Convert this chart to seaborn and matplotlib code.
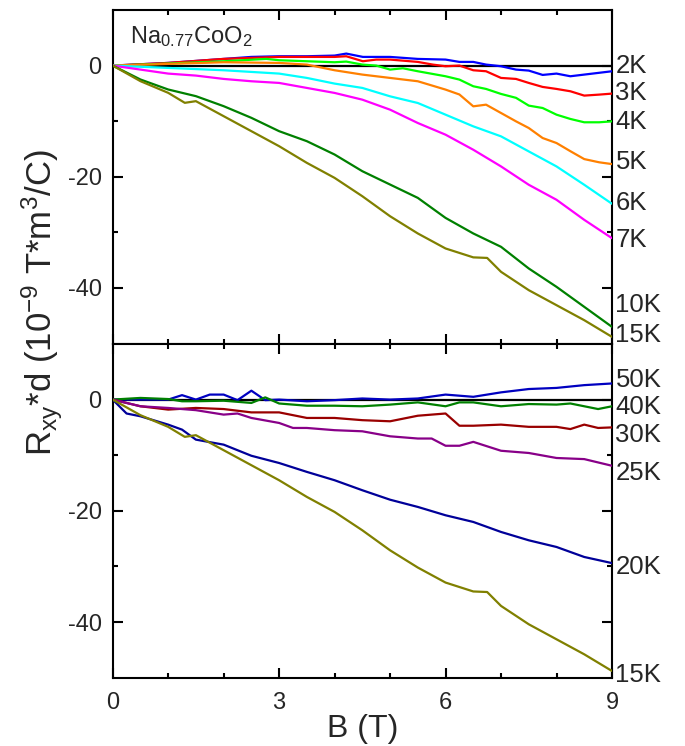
import numpy as np
import pandas as pd
import matplotlib
matplotlib.use("Agg")
import matplotlib.pyplot as plt
import seaborn as sns
from matplotlib.ticker import FixedLocator, MultipleLocator
from matplotlib.transforms import blended_transform_factory

# ---------------- data ----------------
B_2K = [0, 1.0, 2.0, 2.5, 3.0, 3.5, 4.0, 4.21, 4.51, 5.0, 5.5, 6.0, 6.25, 6.5, 6.73, 7.0, 7.27, 7.5, 7.75, 8.0, 8.25, 8.5, 9.0]
R_2K = [0, 0.48, 1.2, 1.56, 1.68, 1.68, 1.8, 2.16, 1.56, 1.56, 1.2, 1.08, 0.66, 0.66, 0.18, -0.12, -0.72, -0.9, -1.68, -1.44, -1.92, -1.62, -1.02]

B_3K = [0, 1.0, 2.0, 3.0, 4.0, 4.21, 4.51, 4.75, 5.0, 5.5, 5.77, 6.0, 6.25, 6.5, 6.73, 7.0, 7.27, 7.5, 7.75, 8.0, 8.25, 8.5, 8.77, 9.0]
R_3K = [0, 0.48, 1.2, 1.56, 1.56, 1.68, 0.78, 1.08, 1.08, 0.66, 0.18, -0.12, 0.0, -0.84, -1.02, -2.22, -2.4, -3.12, -3.84, -4.2, -4.62, -5.4, -5.22, -5.04]

B_4K = [0, 1.0, 2.0, 2.77, 3.0, 3.5, 4.0, 4.21, 4.5, 4.75, 5.0, 5.23, 5.5, 6.0, 6.25, 6.5, 6.73, 7.0, 7.27, 7.5, 7.75, 8.0, 8.25, 8.5, 8.77, 9.0]
R_4K = [0, 0.36, 0.78, 1.2, 0.96, 0.78, 0.6, 0.72, 0.18, 0.0, -0.72, -0.48, -1.02, -1.92, -2.52, -3.72, -4.2, -5.1, -5.8, -7.2, -7.63, -8.83, -9.6, -10.2, -10.2, -10.03]

B_5K = [0, 1.0, 2.0, 3.0, 3.5, 4.0, 4.5, 5.0, 5.5, 6.0, 6.25, 6.5, 6.73, 7.0, 7.27, 7.5, 7.75, 8.0, 8.25, 8.5, 8.77, 9.0]
R_5K = [0, 0.3, 0.6, 0.48, 0.18, -0.84, -1.62, -2.22, -2.82, -4.32, -5.2, -7.33, -7.03, -8.53, -10.03, -11.23, -13.03, -13.93, -15.4, -16.82, -17.4, -17.72]

B_6K = [0, 1.0, 2.0, 3.0, 3.5, 4.0, 4.5, 5.0, 5.5, 6.0, 6.5, 7.0, 7.5, 8.0, 8.5, 9.0]
R_6K = [0, -0.42, -0.84, -1.44, -2.22, -3.24, -4.02, -5.53, -6.73, -8.83, -10.93, -12.73, -15.44, -18.14, -21.44, -24.86]

B_7K = [0, 0.5, 1.0, 1.5, 2.0, 2.5, 3.0, 3.5, 4.0, 4.5, 5.0, 5.5, 6.0, 6.5, 7.0, 7.5, 8.0, 8.5, 9.0]
R_7K = [0, -0.72, -1.44, -1.8, -2.4, -2.82, -3.12, -4.02, -4.92, -6.13, -7.93, -10.33, -12.43, -15.14, -18.14, -21.44, -24.14, -27.75, -31.05]

B_10K = [0, 0.5, 1.0, 1.5, 2.0, 2.5, 3.0, 3.5, 4.0, 4.5, 5.0, 5.5, 6.0, 6.5, 7.0, 7.5, 8.0, 8.5, 9.0]
R_10K = [0, -2.5, -4.3, -5.5, -7.3, -9.4, -11.8, -13.6, -16.0, -19.0, -21.4, -23.8, -27.4, -30.2, -32.6, -36.5, -39.8, -43.4, -47.0]

B_15K = [0, 0.5, 1.0, 1.3, 1.5, 2.0, 2.5, 3.0, 3.5, 4.0, 4.5, 5.0, 5.5, 6.0, 6.5, 6.75, 7.0, 7.5, 8.0, 8.5, 9.0]
R_15K = [0, -2.8, -4.9, -6.7, -6.4, -9.1, -11.8, -14.5, -17.5, -20.2, -23.5, -27.1, -30.2, -32.9, -34.5, -34.6, -37.1, -40.4, -43.1, -45.8, -48.8]

B_50K = [0, 0.5, 1.0, 1.25, 1.5, 1.75, 2.0, 2.25, 2.5, 2.75, 3.0, 3.5, 4.0, 4.5, 5.0, 5.5, 6.0, 6.5, 7.0, 7.5, 8.0, 8.5, 9.0]
R_50K = [0, 0.0, 0.0, 0.8, 0.0, 0.9, 0.9, -0.1, 1.6, -0.1, 0.0, -0.3, -0.1, 0.2, 0.0, 0.2, 0.9, 0.5, 1.3, 1.9, 2.1, 2.6, 2.9]

B_40K = [0, 0.5, 1.0, 1.25, 1.5, 2.0, 2.5, 2.75, 3.0, 3.5, 4.0, 4.5, 5.0, 5.5, 6.0, 6.25, 6.5, 7.0, 7.5, 8.0, 8.25, 8.5, 8.75, 9.0]
R_40K = [0, 0.3, 0.1, -0.3, -0.3, -0.2, -0.6, 0.4, -0.7, -1.1, -1.1, -1.2, -0.9, -0.5, -1.2, -0.5, -0.5, -1.2, -0.8, -0.9, -0.7, -1.2, -1.7, -1.2]

B_30K = [0, 0.5, 1.0, 1.5, 2.0, 2.5, 3.0, 3.5, 4.0, 4.5, 5.0, 5.5, 6.0, 6.25, 6.5, 7.0, 7.5, 8.0, 8.25, 8.5, 8.75, 9.0]
R_30K = [0, -1.2, -1.8, -1.5, -1.7, -2.3, -2.3, -3.3, -3.3, -3.7, -3.9, -2.9, -2.5, -4.7, -4.7, -4.5, -4.9, -4.9, -5.3, -4.5, -5.1, -5.0]

B_25K = [0, 0.5, 1.0, 1.5, 2.0, 2.25, 2.5, 3.0, 3.25, 3.5, 4.0, 4.5, 5.0, 5.5, 5.75, 6.0, 6.25, 6.5, 7.0, 7.5, 8.0, 8.5, 9.0]
R_25K = [0, -1.2, -1.5, -1.9, -2.7, -2.5, -3.3, -4.2, -5.1, -5.1, -5.5, -5.7, -6.6, -7.0, -7.0, -8.3, -8.3, -7.6, -9.2, -9.6, -10.5, -10.7, -11.9]

B_20K = [0, 0.25, 0.5, 1.0, 1.25, 1.5, 2.0, 2.5, 3.0, 3.5, 4.0, 4.5, 5.0, 5.5, 6.0, 6.5, 7.0, 7.5, 8.0, 8.5, 9.0]
R_20K = [0, -2.5, -3.0, -4.5, -5.4, -7.2, -8.1, -10.1, -11.4, -13.0, -14.5, -16.3, -18.0, -19.3, -20.8, -22.0, -23.8, -25.3, -26.5, -28.3, -29.4]

top_labels = ["2K", "3K", "4K", "5K", "6K", "7K", "10K", "15K"]
top_B = [B_2K, B_3K, B_4K, B_5K, B_6K, B_7K, B_10K, B_15K]
top_R = [R_2K, R_3K, R_4K, R_5K, R_6K, R_7K, R_10K, R_15K]
top_colors = ["#0000FF", "#FF0000", "#00FF00", "#FF8000", "#00FFFF", "#FF00FF", "#008000", "#808000"]

bot_labels = ["50K", "40K", "30K", "25K", "20K", "15K"]
bot_B = [B_50K, B_40K, B_30K, B_25K, B_20K, B_15K]
bot_R = [R_50K, R_40K, R_30K, R_25K, R_20K, R_15K]
bot_colors = ["#0000C0", "#008000", "#990000", "#880088", "#000099", "#808000"]

x_ticks = [0, 3, 6, 9]
y_ticks = [-40, -20, 0]

# label positions (layout)
top_label_y = [0.0, -4.9, -10.1, -17.3, -24.7, -31.4, -43.1, -48.5]
bot_label_y = [3.6, -1.3, -6.3, -13.2, -30.1, -49.6]

# ---------------- figure ----------------
sns.set_style("ticks")
plt.rcParams["font.family"] = ["Liberation Sans", "DejaVu Sans"]
plt.rcParams["mathtext.fontset"] = "custom"
plt.rcParams["mathtext.rm"] = "Liberation Sans"
plt.rcParams["mathtext.it"] = "Liberation Sans"
plt.rcParams["axes.unicode_minus"] = False

fig = plt.figure(figsize=(6.85, 7.46), dpi=100)
ax1 = fig.add_axes([0.1645, 0.5395, 0.7289, 0.4471])
ax2 = fig.add_axes([0.1645, 0.0916, 0.7289, 0.4473])


def make_df(labels, Bs, Rs):
    frames = [pd.DataFrame({"B": b, "R": r, "T": lab}) for lab, b, r in zip(labels, Bs, Rs)]
    return pd.concat(frames, ignore_index=True)


def style_axis(ax, show_xlabels):
    ax.axhline(0, color="black", lw=1.6, zorder=1)
    ax.set_xlim(0, 9)
    ax.set_ylim(-50, 10)
    ax.xaxis.set_major_locator(FixedLocator(x_ticks))
    ax.xaxis.set_minor_locator(MultipleLocator(1))
    ax.yaxis.set_major_locator(FixedLocator(y_ticks))
    ax.yaxis.set_minor_locator(FixedLocator([-30, -10]))
    ax.tick_params(which="both", direction="in", top=True, right=True, width=1.5, color="black")
    ax.tick_params(which="major", length=7.2)
    ax.tick_params(which="minor", length=3.6)
    ax.tick_params(axis="both", labelsize=17, pad=8)
    ax.tick_params(axis="x", pad=10)
    if not show_xlabels:
        ax.tick_params(axis="x", labelbottom=False)
    for s in ax.spines.values():
        s.set_linewidth(1.5)
        s.set_color("black")
    ax.set_xlabel("")
    ax.set_ylabel("")


df_top = make_df(top_labels, top_B, top_R)
sns.lineplot(data=df_top, x="B", y="R", hue="T", hue_order=top_labels,
             palette=dict(zip(top_labels, top_colors)), sort=False, estimator=None,
             lw=1.6, legend=False, ax=ax1, zorder=3)
df_bot = make_df(bot_labels, bot_B, bot_R)
sns.lineplot(data=df_bot, x="B", y="R", hue="T", hue_order=bot_labels,
             palette=dict(zip(bot_labels, bot_colors)), sort=False, estimator=None,
             lw=1.6, legend=False, ax=ax2, zorder=3)

style_axis(ax1, False)
style_axis(ax2, True)

tr1 = blended_transform_factory(ax1.transAxes, ax1.transData)
for lab, y in zip(top_labels, top_label_y):
    ax1.text(1.007, y, lab, transform=tr1, ha="left", va="center", fontsize=18.5, clip_on=False)
tr2 = blended_transform_factory(ax2.transAxes, ax2.transData)
for lab, y in zip(bot_labels, bot_label_y):
    ax2.text(1.007, y, lab, transform=tr2, ha="left", va="center", fontsize=18.5, clip_on=False)

ax1.text(0.035, 0.902, r"Na$_{\mathregular{0.77}}$CoO$_{\mathregular{2}}$", transform=ax1.transAxes,
         ha="left", va="baseline", fontsize=17)

ax2.set_xlabel("B (T)", fontsize=23, labelpad=0)
fig.text(0.062, 0.595, r"R$_{\mathregular{xy}}$*d (10$^{\mathregular{-9}}$ T*m$^{\mathregular{3}}$/C)",
         rotation=90, ha="center", va="center", fontsize=25)

fig.savefig("out.png", dpi=100)
